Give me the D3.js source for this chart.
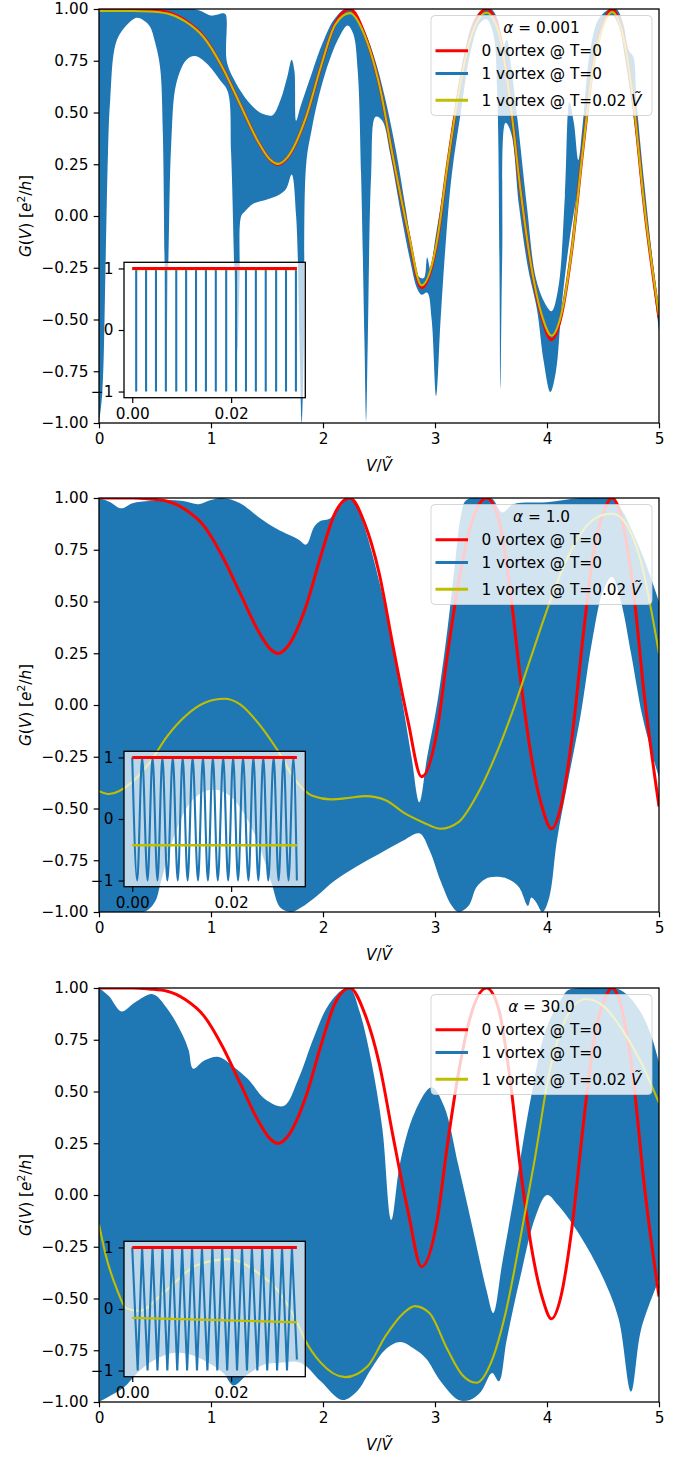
<!DOCTYPE html>
<html>
<head>
<meta charset="utf-8">
<script src="https://cdn.jsdelivr.net/npm/d3@7"></script>
<style>
  body { margin: 0; background: #fff; }
</style>
</head>
<body>
<svg id="fig" width="689" height="1459"></svg>
<script>
// ---- ticks / labels ----
const X_TICKS = [0, 1, 2, 3, 4, 5];
const Y_TICKS = [-1, -0.75, -0.5, -0.25, 0, 0.25, 0.5, 0.75, 1];
const INSET_X_TICKS = [0, 0.02];
const INSET_Y_TICKS = [-1, 0, 1];
const ALPHA_LABELS = ["0.001", "1.0", "30.0"];
const SERIES = ["0 vortex @ T=0", "1 vortex @ T=0", "1 vortex @ T=0.02 "];

// ---- 0 vortex @ T=0 (same curve in all three panels) ----
const redX = [0, 0.30, 0.45, 0.61, 0.77, 0.94, 1.10, 1.26, 1.42, 1.52, 1.60, 1.68, 1.85, 1.98, 2.11, 2.24, 2.37, 2.50, 2.63, 2.76, 2.88, 3.02, 3.11, 3.21, 3.31, 3.46, 3.57, 3.67, 3.76, 3.86, 3.96, 4.04, 4.12, 4.22, 4.32, 4.41, 4.51, 4.58, 4.67, 4.77, 4.87, 5.00];
const redY = [1.00, 1.00, 0.995, 0.984, 0.944, 0.863, 0.72, 0.54, 0.36, 0.276, 0.249, 0.28, 0.48, 0.72, 0.93, 1.00, 0.88, 0.64, 0.27, -0.08, -0.347, -0.12, 0.24, 0.59, 0.85, 1.00, 0.895, 0.56, 0.14, -0.25, -0.50, -0.598, -0.50, -0.17, 0.32, 0.72, 0.94, 1.00, 0.895, 0.56, 0.04, -0.49];

// ---- 1 vortex @ T=0.02 ----
const yellowAX = redX;
const yellowAY = [0.99, 0.99, 0.988, 0.978, 0.94, 0.86, 0.72, 0.54, 0.36, 0.277, 0.252, 0.282, 0.48, 0.72, 0.925, 0.98, 0.875, 0.64, 0.27, -0.075, -0.335, -0.115, 0.24, 0.59, 0.845, 0.982, 0.885, 0.56, 0.14, -0.245, -0.49, -0.578, -0.49, -0.17, 0.32, 0.715, 0.93, 0.985, 0.89, 0.56, 0.045, -0.48];
const yellowBX = [0, 0.09, 0.29, 0.45, 0.61, 0.77, 0.94, 1.12, 1.26, 1.42, 1.59, 1.75, 1.91, 2.07, 2.24, 2.38, 2.56, 2.72, 2.89, 3.05, 3.21, 3.37, 3.54, 3.70, 3.86, 4.02, 4.19, 4.35, 4.51, 4.58, 4.67, 4.84, 5.00];
const yellowBY = [-0.416, -0.43, -0.375, -0.28, -0.15, -0.054, 0.01, 0.03, 0.003, -0.086, -0.215, -0.36, -0.44, -0.456, -0.448, -0.44, -0.46, -0.52, -0.566, -0.598, -0.566, -0.44, -0.245, -0.02, 0.236, 0.49, 0.72, 0.863, 0.92, 0.924, 0.90, 0.69, 0.25];
const yellowCX = [0, 0.06, 0.16, 0.24, 0.35, 0.61, 0.87, 1.16, 1.42, 1.65, 1.78, 1.84, 1.98, 2.20, 2.40, 2.56, 2.72, 2.82, 2.95, 3.11, 3.24, 3.37, 3.50, 3.63, 3.76, 3.89, 4.02, 4.15, 4.25, 4.35, 4.51, 4.67, 4.84, 5.00];
const yellowCY = [-0.142, -0.29, -0.456, -0.545, -0.56, -0.456, -0.34, -0.31, -0.376, -0.50, -0.63, -0.70, -0.81, -0.88, -0.826, -0.68, -0.57, -0.537, -0.57, -0.745, -0.867, -0.907, -0.81, -0.57, -0.215, 0.17, 0.59, 0.83, 0.92, 0.947, 0.91, 0.80, 0.64, 0.445];

// ---- 1 vortex @ T=0: envelope of the fast oscillation [V, G] ----
const blueUpperA = [[0,1],[0.85,1],[0.95,0.98],[1.0,0.968],[1.05,0.972],[1.1,0.98],[1.13,0.975],[1.14,0.75],[1.2,0.665],[1.3,0.575],[1.4,0.515],[1.48,0.49],[1.55,0.487],[1.62,0.56],[1.68,0.67],[1.72,0.755],[1.745,0.7],[1.76,0.46],[1.8,0.53],[1.9,0.69],[2.0,0.84],[2.1,0.95],[2.2,1.0],[2.27,0.99],[2.35,0.92],[2.45,0.78],[2.55,0.58],[2.65,0.32],[2.74,0.03],[2.8,-0.17],[2.85,-0.29],[2.9,-0.3],[2.93,-0.2],[2.96,-0.26],[3.0,-0.12],[3.08,0.15],[3.17,0.5],[3.26,0.78],[3.35,0.95],[3.43,1.0],[3.5,1.0],[3.56,0.95],[3.6,0.8],[3.64,0.85],[3.68,0.72],[3.74,0.45],[3.82,0.05],[3.9,-0.3],[3.98,-0.42],[4.04,-0.46],[4.1,-0.35],[4.16,0.1],[4.2,0.55],[4.24,0.45],[4.28,0.27],[4.32,0.45],[4.38,0.78],[4.46,0.95],[4.56,1.0],[4.62,1.0],[4.68,0.93],[4.73,0.8],[4.77,0.77],[4.8,0.55],[4.87,0.15],[4.94,-0.2],[5.0,-0.45]];
const blueLowerA = [[0,-1],[0.03,-0.85],[0.06,-0.2],[0.08,0.3],[0.1,0.56],[0.16,0.85],[0.28,0.94],[0.34,0.958],[0.4,0.945],[0.455,0.915],[0.5,0.84],[0.545,0.72],[0.57,0.4],[0.585,-0.2],[0.6,-0.7],[0.62,-0.2],[0.645,0.35],[0.69,0.64],[0.78,0.754],[0.857,0.773],[0.96,0.738],[1.08,0.657],[1.15,0.6],[1.18,0.3],[1.21,-0.3],[1.235,-0.65],[1.255,-0.3],[1.27,0.0],[1.3,0.02],[1.38,0.06],[1.5,0.08],[1.6,0.1],[1.67,0.13],[1.72,0.2],[1.76,0.0],[1.79,-0.6],[1.81,-1.0],[1.83,-0.6],[1.85,0.25],[1.9,0.42],[1.95,0.55],[2.05,0.74],[2.15,0.87],[2.22,0.92],[2.27,0.88],[2.31,0.7],[2.34,0.2],[2.37,-0.6],[2.385,-0.99],[2.4,-0.6],[2.43,0.2],[2.47,0.48],[2.53,0.46],[2.6,0.3],[2.7,0.0],[2.78,-0.22],[2.84,-0.35],[2.88,-0.38],[2.93,-0.37],[2.97,-0.5],[3.01,-0.87],[3.05,-0.5],[3.1,-0.1],[3.15,0.2],[3.23,0.5],[3.32,0.8],[3.4,0.93],[3.46,0.95],[3.52,0.88],[3.555,0.6],[3.575,-0.2],[3.585,-0.83],[3.6,-0.2],[3.63,0.45],[3.68,0.4],[3.75,0.05],[3.83,-0.25],[3.91,-0.45],[3.97,-0.7],[4.03,-0.85],[4.08,-0.75],[4.13,-0.44],[4.2,-0.12],[4.28,0.15],[4.36,0.5],[4.45,0.82],[4.52,0.95],[4.58,0.97],[4.64,0.92],[4.7,0.75],[4.78,0.45],[4.86,0.05],[4.93,-0.25],[5.0,-0.55]];

const blueUpperB = [[0,1],[0.1,0.98],[0.2,0.95],[0.3,0.975],[0.45,0.985],[0.61,0.99],[0.75,0.985],[0.89,0.97],[1.0,0.99],[1.1,1.0],[1.26,0.975],[1.42,0.91],[1.59,0.85],[1.78,0.8],[1.85,0.775],[1.92,0.86],[1.98,0.89],[2.06,0.9],[2.14,0.95],[2.24,1.0],[2.3,0.96],[2.37,0.86],[2.43,0.75],[2.56,0.46],[2.69,0.075],[2.79,-0.25],[2.86,-0.47],[2.93,-0.25],[3.02,0.01],[3.11,0.36],[3.18,0.69],[3.23,0.91],[3.28,0.99],[3.5,1.0],[3.6,0.93],[3.7,0.97],[4.0,0.98],[4.3,1.0],[4.58,1.0],[4.67,0.94],[4.77,0.83],[4.87,0.7],[5.0,0.5]];
const blueLowerB = [[0,-1],[0.4,-1],[0.5,-0.95],[0.55,-0.86],[0.66,-0.65],[0.81,-0.475],[0.93,-0.42],[1.05,-0.41],[1.17,-0.44],[1.29,-0.52],[1.41,-0.65],[1.54,-0.86],[1.62,-0.98],[1.72,-1.0],[1.8,-0.98],[1.95,-0.92],[2.1,-0.85],[2.3,-0.78],[2.5,-0.72],[2.7,-0.66],[2.86,-0.62],[2.95,-0.7],[3.05,-0.85],[3.15,-0.97],[3.21,-1.0],[3.3,-0.97],[3.37,-0.88],[3.45,-0.84],[3.54,-0.83],[3.65,-0.84],[3.75,-0.88],[3.83,-0.97],[3.86,-0.93],[3.9,-0.95],[3.96,-1.0],[4.02,-0.93],[4.09,-0.65],[4.19,-0.36],[4.3,-0.05],[4.4,0.3],[4.5,0.55],[4.58,0.62],[4.66,0.5],[4.75,0.25],[4.85,-0.05],[4.93,-0.22],[5.0,-0.35]];

const blueUpperC = [[0,1],[0.09,0.96],[0.2,0.887],[0.32,0.93],[0.48,0.97],[0.61,0.9],[0.74,0.78],[0.8,0.7],[0.84,0.61],[0.94,0.65],[1.07,0.667],[1.2,0.62],[1.33,0.56],[1.49,0.46],[1.65,0.43],[1.78,0.56],[1.91,0.75],[2.04,0.91],[2.17,0.99],[2.24,1.0],[2.33,0.88],[2.43,0.65],[2.53,0.32],[2.61,-0.12],[2.69,0.16],[2.82,0.4],[2.97,0.52],[3.08,0.43],[3.21,0.14],[3.34,-0.17],[3.46,-0.46],[3.52,-0.57],[3.6,-0.33],[3.73,0.07],[3.86,0.48],[3.99,0.8],[4.12,0.94],[4.19,0.99],[4.3,1.0],[4.6,1.0],[4.71,0.97],[4.84,0.88],[4.93,0.77],[5.0,0.64]];
const blueLowerC = [[0,-1],[0.1,-0.97],[0.22,-0.93],[0.37,-0.845],[0.52,-0.79],[0.66,-0.763],[0.81,-0.77],[0.96,-0.805],[1.11,-0.86],[1.2,-0.92],[1.32,-0.87],[1.47,-0.82],[1.61,-0.81],[1.8,-0.81],[1.98,-0.9],[2.17,-0.99],[2.3,-0.95],[2.43,-0.84],[2.56,-0.745],[2.69,-0.71],[2.82,-0.745],[2.92,-0.79],[3.05,-0.9],[3.21,-0.99],[3.31,-0.99],[3.41,-0.95],[3.51,-0.86],[3.57,-0.9],[3.64,-0.7],[3.76,-0.4],[3.9,-0.1],[4.0,0.0],[4.1,-0.05],[4.3,-0.2],[4.5,-0.4],[4.64,-0.6],[4.75,-0.95],[4.84,-0.65],[5.0,-0.41]];

// ---- insets: first 1/30 of V, peaks (G=1) and dips/troughs ----
const INSET_V_END = 0.0333;
const insetDipsA = [0.0008, 0.0028, 0.0048, 0.0068, 0.0089, 0.0109, 0.0129, 0.0149, 0.0169, 0.0190, 0.0210, 0.0230, 0.0250, 0.0270, 0.0291, 0.0311, 0.0331];
const insetPeaksB = [0.0000, 0.0020, 0.0041, 0.0061, 0.0082, 0.0102, 0.0122, 0.0143, 0.0163, 0.0184, 0.0204, 0.0224, 0.0245, 0.0265, 0.0286, 0.0306, 0.0326];
const insetTroughsB = [0.0010, 0.0031, 0.0051, 0.0071, 0.0092, 0.0112, 0.0133, 0.0153, 0.0173, 0.0194, 0.0214, 0.0235, 0.0255, 0.0275, 0.0296, 0.0316, 0.0333];
const insetPeaksC = [0.0000, 0.0020, 0.0041, 0.0061, 0.0081, 0.0101, 0.0121, 0.0141, 0.0162, 0.0182, 0.0202, 0.0222, 0.0242, 0.0263, 0.0283, 0.0303, 0.0323];
const insetTroughsC = [0.0011, 0.0031, 0.0051, 0.0071, 0.0091, 0.0111, 0.0131, 0.0152, 0.0172, 0.0192, 0.0212, 0.0232, 0.0253, 0.0273, 0.0293, 0.0313];
const insetEndC = [0.0333, -0.82];
const insetYellow = [[0.99, 0.99], [-0.427, -0.427], [-0.145, -0.215]];

// ---------------------------------------------------------------
const BLUE = "#1f77b4", RED = "#ff0000", YEL = "#bfbf00";
const FONT = "DejaVu Sans", FS = 15.3;
const LEFT = 99, RIGHT = 659, PH = 414;
const PANEL_TOPS = [9, 498, 988];

// build the blue inset curves from peaks / troughs
const insetBlueA = [[0, 1]];
insetDipsA.forEach(v => { insetBlueA.push([v, 1], [v, -1], [v, 1]); });
const insetBlueB = insetPeaksB.map(v => [v, 1]).concat(insetTroughsB.map(v => [v, -1])).sort((a, b) => a[0] - b[0]);
const insetBlueC = insetPeaksC.map(v => [v, 1]).concat(insetTroughsC.map(v => [v, -1]), [insetEndC]).sort((a, b) => a[0] - b[0]);

const panels = [
  { upper: blueUpperA, lower: blueLowerA, yx: yellowAX, yy: yellowAY, inset: insetBlueA, insetCurve: d3.curveLinear },
  { upper: blueUpperB, lower: blueLowerB, yx: yellowBX, yy: yellowBY, inset: insetBlueB, insetCurve: d3.curveMonotoneX },
  { upper: blueUpperC, lower: blueLowerC, yx: yellowCX, yy: yellowCY, inset: insetBlueC, insetCurve: d3.curveLinear }
];

const svg = d3.select("#fig");

function styleAxis(a) {
  a.select(".domain").remove();
  a.selectAll("line").attr("stroke", "#000").attr("stroke-width", 1.2);
  a.selectAll("text").attr("font-family", FONT).attr("font-size", FS).attr("fill", "#000");
}

function drawPanel(p, i) {
  const T = PANEL_TOPS[i];
  const x = d3.scaleLinear().domain([0, 5]).range([LEFT, RIGHT]);
  const y = d3.scaleLinear().domain([-1, 1]).range([T + PH, T]);
  const g = svg.append("g");

  g.append("clipPath").attr("id", "clip" + i)
    .append("rect").attr("x", LEFT).attr("y", T).attr("width", RIGHT - LEFT).attr("height", PH);
  const body = g.append("g").attr("clip-path", `url(#clip${i})`);

  // fast oscillating 1-vortex curve, drawn as its filled envelope
  const edge = d3.line().x(d => x(d[0])).y(d => y(d[1])).curve(d3.curveCatmullRom.alpha(0.5));
  const back = edge(p.lower.slice().reverse()).replace(/^M/, "L");
  body.append("path").attr("d", edge(p.upper) + back + "Z").attr("fill", BLUE);

  const smooth = d3.line().x(d => x(d[0])).y(d => y(d[1])).curve(d3.curveMonotoneX);
  body.append("path").attr("d", smooth(d3.zip(redX, redY)))
    .attr("fill", "none").attr("stroke", RED).attr("stroke-width", 3);
  body.append("path").attr("d", smooth(d3.zip(p.yx, p.yy)))
    .attr("fill", "none").attr("stroke", YEL).attr("stroke-width", 2.1);

  // axes
  const ax = g.append("g").attr("transform", `translate(0,${T + PH})`)
    .call(d3.axisBottom(x).tickValues(X_TICKS).tickFormat(d3.format("d")).tickSize(5.3).tickPadding(5.3));
  const ay = g.append("g").attr("transform", `translate(${LEFT},0)`)
    .call(d3.axisLeft(y).tickValues(Y_TICKS).tickFormat(d3.format(".2f")).tickSize(5.3).tickPadding(5.3));
  styleAxis(ax); styleAxis(ay);
  g.append("rect").attr("x", LEFT).attr("y", T).attr("width", RIGHT - LEFT).attr("height", PH)
    .attr("fill", "none").attr("stroke", "#000").attr("stroke-width", 1.3);

  // y label  G(V) [e^2/h]
  const yl = g.append("text").attr("transform", `translate(31,${T + PH / 2}) rotate(-90)`)
    .attr("text-anchor", "middle").attr("font-family", FONT).attr("font-size", FS);
  yl.append("tspan").attr("font-style", "italic").text("G");
  yl.append("tspan").text("(");
  yl.append("tspan").attr("font-style", "italic").text("V");
  yl.append("tspan").text(") [");
  yl.append("tspan").attr("font-style", "italic").text("e");
  yl.append("tspan").attr("font-size", FS * 0.7).attr("dy", -6).text("2");
  yl.append("tspan").attr("dy", 6).text("/");
  yl.append("tspan").attr("font-style", "italic").text("h");
  yl.append("tspan").text("]");

  // x label  V/V~
  const xl = g.append("text").attr("x", (LEFT + RIGHT) / 2).attr("y", T + 462)
    .attr("text-anchor", "middle").attr("font-family", FONT).attr("font-size", FS);
  xl.append("tspan").attr("font-style", "italic").text("V");
  xl.append("tspan").text("/");
  xl.append("tspan").attr("font-style", "italic").text("V\u0303");

  // legend
  const L = g.append("g");
  L.append("rect").attr("x", 431).attr("y", T + 6.5).attr("width", 221).attr("height", 100).attr("rx", 4)
    .attr("fill", "#fff").attr("fill-opacity", 0.8).attr("stroke", "#cccccc").attr("stroke-opacity", 0.8);
  const tt = L.append("text").attr("x", 541.5).attr("y", T + 23.8).attr("text-anchor", "middle")
    .attr("font-family", FONT).attr("font-size", FS);
  tt.append("tspan").attr("font-style", "italic").text("α");
  tt.append("tspan").text(" = " + ALPHA_LABELS[i]);
  const rows = [T + 41.8, T + 64.5, T + 91.2];
  const cols = [RED, BLUE, YEL];
  SERIES.forEach((s, k) => {
    L.append("line").attr("x1", 435.5).attr("x2", 468).attr("y1", rows[k]).attr("y2", rows[k])
      .attr("stroke", cols[k]).attr("stroke-width", 3);
    const t = L.append("text").attr("x", 481.5).attr("y", rows[k] + 5.6)
      .attr("font-family", FONT).attr("font-size", FS).text(s);
    if (k === 2) t.append("tspan").attr("font-style", "italic").text("V\u0303");
  });

  // inset
  const ix = d3.scaleLinear().domain([-0.001667, 0.035]).range([124, 305.3]);
  const iy = d3.scaleLinear().domain([-1.1, 1.1]).range([T + 388.7, T + 253.3]);
  const I = g.append("g");
  I.append("rect").attr("x", 124).attr("y", T + 253.3).attr("width", 181.3).attr("height", 135.4)
    .attr("fill", "#fff").attr("fill-opacity", 0.7);
  I.append("clipPath").attr("id", "iclip" + i)
    .append("rect").attr("x", 124).attr("y", T + 253.3).attr("width", 181.3).attr("height", 135.4);
  const ib = I.append("g").attr("clip-path", `url(#iclip${i})`);
  const iline = d3.line().x(d => ix(d[0])).y(d => iy(d[1]));
  ib.append("path").attr("d", iline.curve(p.insetCurve)(p.inset))
    .attr("fill", "none").attr("stroke", BLUE).attr("stroke-width", 2.1);
  ib.append("path").attr("d", iline.curve(d3.curveLinear)([[0, insetYellow[i][0]], [INSET_V_END, insetYellow[i][1]]]))
    .attr("fill", "none").attr("stroke", YEL).attr("stroke-width", 2.4);
  ib.append("path").attr("d", iline.curve(d3.curveLinear)([[0, redY[0]], [INSET_V_END, redY[0]]]))
    .attr("fill", "none").attr("stroke", RED).attr("stroke-width", 3);
  const iax = I.append("g").attr("transform", `translate(0,${T + 388.7})`)
    .call(d3.axisBottom(ix).tickValues(INSET_X_TICKS).tickFormat(d3.format(".2f")).tickSize(5.3).tickPadding(5.3));
  const iay = I.append("g").attr("transform", "translate(124,0)")
    .call(d3.axisLeft(iy).tickValues(INSET_Y_TICKS).tickFormat(d3.format("d")).tickSize(5.3).tickPadding(5.3));
  styleAxis(iax); styleAxis(iay);
  I.append("rect").attr("x", 124).attr("y", T + 253.3).attr("width", 181.3).attr("height", 135.4)
    .attr("fill", "none").attr("stroke", "#000").attr("stroke-width", 1.3);
}

panels.forEach(drawPanel);
</script>
</body>
</html>
